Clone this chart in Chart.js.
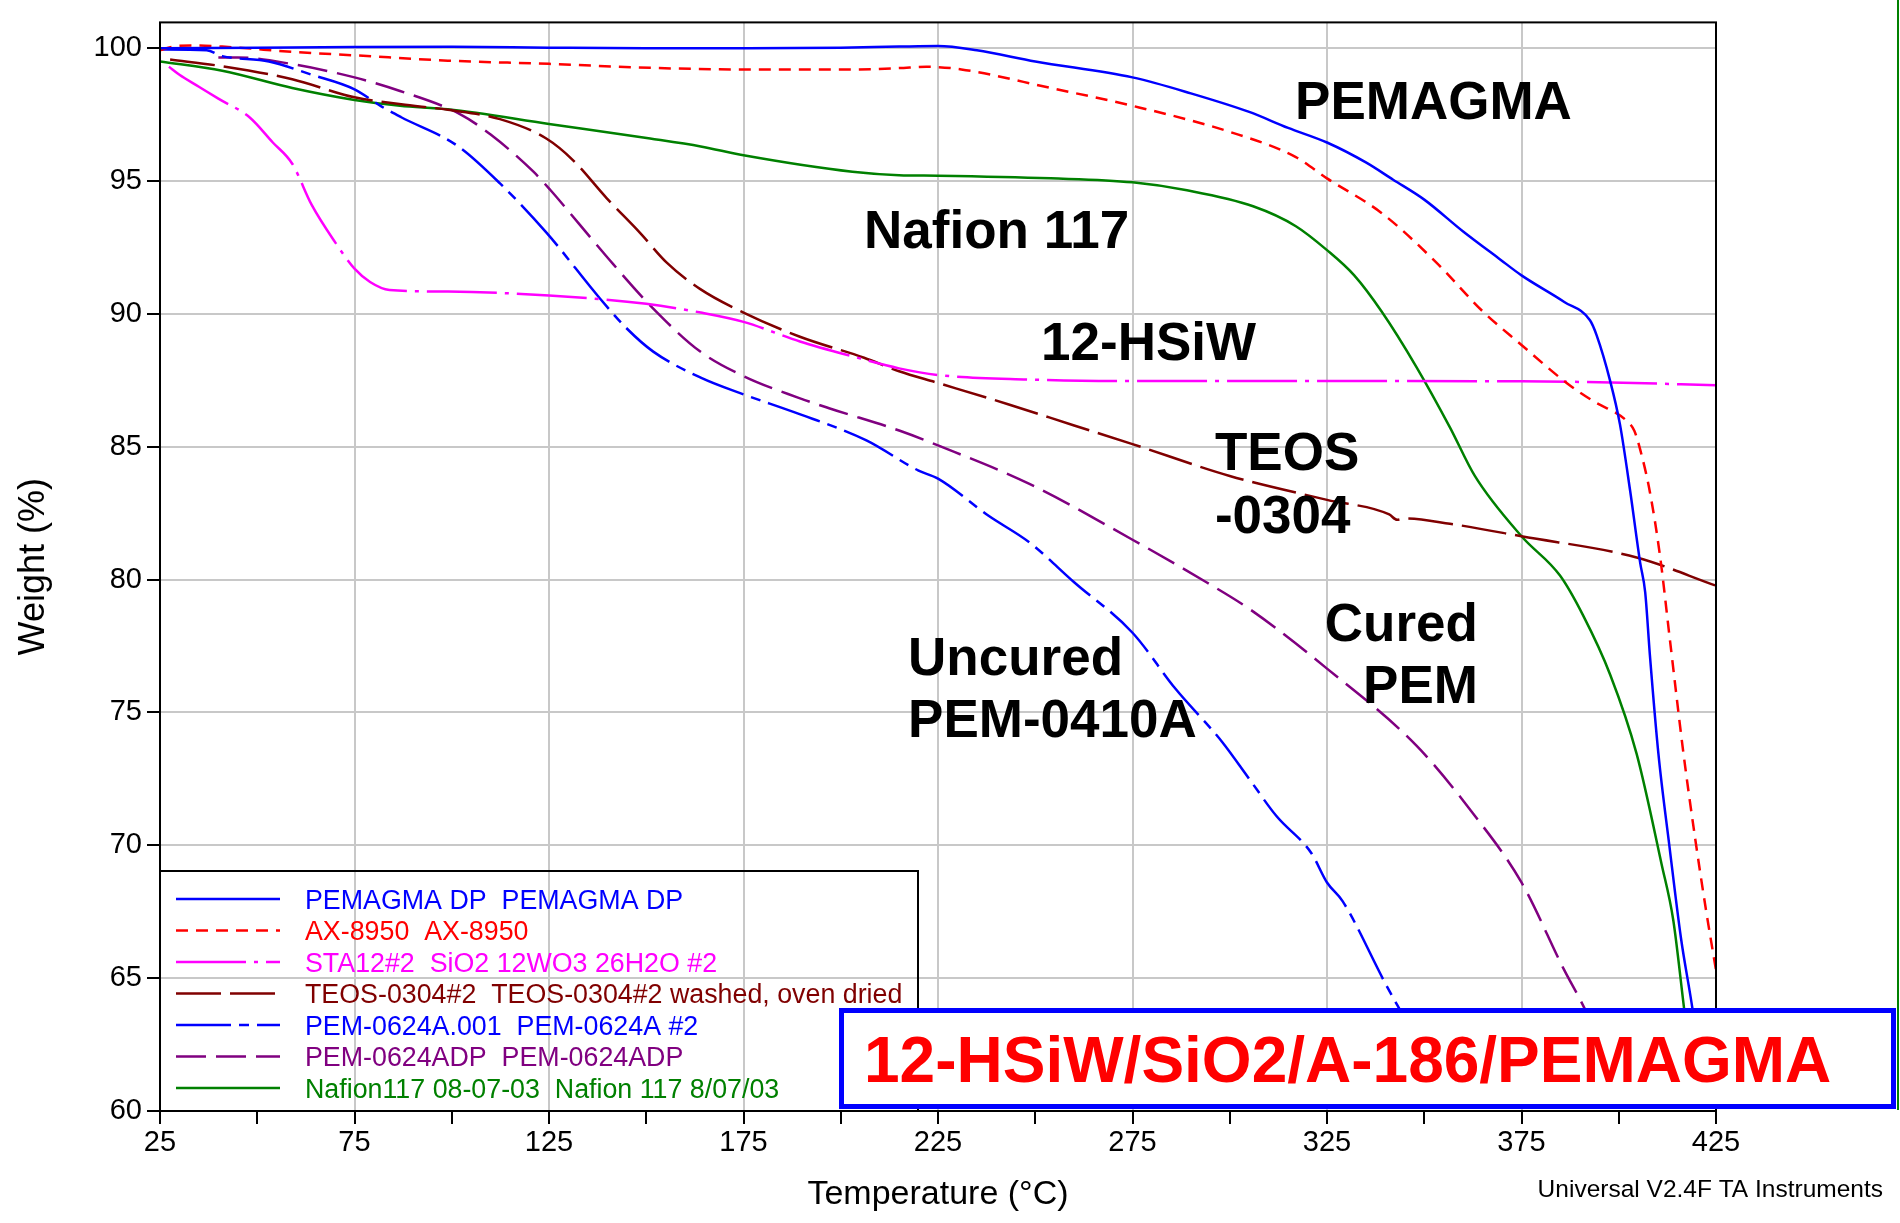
<!DOCTYPE html>
<html>
<head>
<meta charset="utf-8">
<script src="https://cdn.jsdelivr.net/npm/chart.js@4.4.1/dist/chart.umd.min.js"></script>
<style>
  html, body { margin: 0; padding: 0; background: #fff; }
  #tgaChart { display: block; }
</style>
</head>
<body>
<canvas id="tgaChart" width="1900" height="1223"></canvas>
<script>
// Ejes: marcas cada 25 °C, etiquetas cada 50 °C
const tempTicks = [25, 50, 75, 100, 125, 150, 175, 200, 225, 250, 275, 300, 325, 350, 375, 400, 425];
const tempLabels = [25, 75, 125, 175, 225, 275, 325, 375, 425];
const weightTicks = [60, 65, 70, 75, 80, 85, 90, 95, 100];

// PEMAGMA DP
const pemagmaTemp = [25, 50, 75, 100, 125, 150, 175, 200, 215, 225, 235, 250, 275, 290, 305, 315, 325, 335, 342, 350, 360, 369.5, 375, 386, 392.6, 394.3, 397.8, 400.3, 402.9, 405.5, 406.8, 408, 410.2, 413, 416, 419, 422];
const pemagmaWeight = [100.0, 100.02, 100.04, 100.05, 100.02, 100.0, 100.0, 100.02, 100.06, 100.08, 99.92, 99.5, 98.9, 98.3, 97.6, 97.0, 96.45, 95.7, 95.05, 94.3, 93.1, 92.05, 91.45, 90.45, 89.76, 89.2, 87.47, 85.85, 83.37, 80.64, 79.52, 77.17, 73.44, 70.0, 66.5, 63.8, 60.5];

// AX-8950
const axTemp = [25, 28, 33, 41, 60, 75, 99, 125, 151, 175, 203, 215, 222, 231, 254, 275, 300, 317, 325, 339, 353, 365, 375, 386.6, 393.4, 402, 404, 405.5, 408, 410.6, 413.1, 416.6, 419.7, 422.5, 425];
const axWeight = [99.92, 100.05, 100.1, 100.06, 99.85, 99.73, 99.53, 99.41, 99.26, 99.2, 99.2, 99.25, 99.3, 99.2, 98.5, 97.83, 96.85, 95.9, 95.1, 93.8, 91.95, 90.1, 88.83, 87.4, 86.72, 85.98, 85.6, 84.9, 83.3, 80.9, 77.8, 73.5, 70.2, 67.5, 65.3];

// STA12#2 (12-HSiW)
const staTemp = [27.3, 30, 35, 40, 48, 54, 59, 64, 70, 75, 79, 84, 99, 125, 150, 164, 175, 189.5, 203, 215, 225, 248, 275, 331, 375, 398, 425];
const staWeight = [99.3, 99.0, 98.55, 98.1, 97.4, 96.45, 95.65, 94.1, 92.7, 91.7, 91.2, 90.9, 90.84, 90.69, 90.38, 90.05, 89.7, 88.96, 88.4, 87.95, 87.7, 87.53, 87.47, 87.47, 87.46, 87.42, 87.31];

// TEOS-0304#2
const teosTemp = [27.6, 41, 59, 75, 87, 99, 112.4, 124.4, 131.2, 139.8, 148.4, 155.2, 163.8, 175, 189.5, 206, 215, 225, 243, 260, 275, 300, 325, 341, 343, 345, 356.6, 375, 404.6, 425];
const teosWeight = [99.57, 99.32, 98.83, 98.15, 97.89, 97.68, 97.33, 96.59, 95.78, 94.36, 93.05, 91.94, 90.94, 90.05, 89.14, 88.35, 87.84, 87.4, 86.6, 85.8, 85.1, 83.9, 83.0, 82.45, 82.25, 82.3, 82.1, 81.63, 80.83, 79.77];

// PEM-0624A.001
const pemATemp = [25, 37, 41, 53, 64, 75, 82, 87, 101.3, 112.4, 124.4, 138.1, 145, 151.8, 164, 175, 188, 206.6, 220, 225, 238, 248.5, 260, 275, 286, 298, 305, 312, 321, 325, 329, 340, 343, 357];
const pemAWeight = [99.95, 99.92, 99.7, 99.5, 99.0, 98.45, 97.8, 97.4, 96.34, 94.91, 93.05, 90.58, 89.45, 88.58, 87.6, 86.97, 86.3, 85.24, 84.1, 83.8, 82.4, 81.4, 79.9, 78.0, 75.9, 73.9, 72.5, 71.1, 69.7, 68.6, 67.9, 64.8, 64.0, 60.4];

// PEM-0624ADP
const pemAdpTemp = [40, 45, 59, 75, 86.7, 102.1, 110, 121, 125.3, 133, 141.5, 151.8, 163.8, 175, 189, 197, 215.2, 225, 248.5, 275, 294, 305.5, 325, 348, 362, 375, 386, 390.4, 402];
const pemAdpWeight = [99.65, 99.65, 99.4, 98.9, 98.39, 97.52, 96.75, 95.35, 94.67, 93.34, 91.87, 90.2, 88.59, 87.66, 86.85, 86.45, 85.6, 85.05, 83.6, 81.5, 79.9, 78.85, 76.65, 73.75, 71.3, 68.6, 65.3, 64.1, 60.6];

// Nafion 117
const nafionTemp = [25, 41, 59, 75, 86.7, 99, 125, 151, 164, 175, 203, 215, 225, 254, 275, 289, 306, 317, 325, 332, 339, 348, 356.6, 363, 375, 384.9, 390.8, 397.8, 404.6, 411, 414, 416.6, 419.5];
const nafionWeight = [99.5, 99.15, 98.5, 98.05, 97.83, 97.7, 97.15, 96.6, 96.3, 95.97, 95.35, 95.22, 95.2, 95.1, 94.95, 94.65, 94.05, 93.3, 92.4, 91.45, 90.1, 88.0, 85.73, 83.9, 81.63, 80.15, 78.66, 76.42, 73.44, 69.3, 67.2, 64.1, 60.5];

// Etiquetas dentro de la gráfica (línea base del texto, en unidades de datos)
const annotations = [
  { text: "PEMAGMA", temp: 316.8, weight: 97.35, align: "left" },
  { text: "Nafion 117", temp: 206.0, weight: 92.47, align: "left" },
  { text: "12-HSiW", temp: 251.5, weight: 88.26, align: "left" },
  { text: "TEOS", temp: 296.2, weight: 84.13, align: "left" },
  { text: "-0304", temp: 296.2, weight: 81.75, align: "left" },
  { text: "Uncured", temp: 217.3, weight: 76.42, align: "left" },
  { text: "PEM-0410A", temp: 217.3, weight: 74.08, align: "left" },
  { text: "Cured", temp: 363.8, weight: 77.69, align: "right" },
  { text: "PEM", temp: 363.8, weight: 75.34, align: "right" },
];

const FONT = '"Liberation Sans", Arial, Helvetica, sans-serif';

function toPoints(temps, weights) {
  return temps.map((t, i) => ({ x: t, y: weights[i] }));
}

function series(legendText, temps, weights, color, dash) {
  return {
    label: legendText,
    data: toPoints(temps, weights),
    borderColor: color,
    borderDash: dash,
    borderWidth: 2.5,
    pointRadius: 0,
    cubicInterpolationMode: "monotone",
    fill: false,
  };
}

const datasets = [
  series("PEMAGMA DP  PEMAGMA DP", pemagmaTemp, pemagmaWeight, "#0000ff", []),
  series("AX-8950  AX-8950", axTemp, axWeight, "#ff0000", [12, 8]),
  series("STA12#2  SiO2 12WO3 26H2O #2", staTemp, staWeight, "#ff00ff", [70, 8, 4, 8]),
  series("TEOS-0304#2  TEOS-0304#2 washed, oven dried", teosTemp, teosWeight, "#800000", [45, 9]),
  series("PEM-0624A.001  PEM-0624A #2", pemATemp, pemAWeight, "#0000ff", [55, 8, 10, 8]),
  series("PEM-0624ADP  PEM-0624ADP", pemAdpTemp, pemAdpWeight, "#800080", [30, 10]),
  series("Nafion117 08-07-03  Nafion 117 8/07/03", nafionTemp, nafionWeight, "#008000", []),
];

// Marco, leyenda, textos y recuadro del título
const decorPlugin = {
  id: "decor",
  afterDatasetsDraw(chart) {
    const { ctx, chartArea: a, scales } = chart;
    ctx.save();

    // marco de la gráfica
    ctx.strokeStyle = "#000";
    ctx.lineWidth = 2;
    ctx.setLineDash([]);
    ctx.strokeRect(a.left, a.top, a.right - a.left, a.bottom - a.top);

    // leyenda (sin relleno, la rejilla se ve a través)
    const lgTop = 871, lgRight = 918;
    ctx.strokeRect(a.left, lgTop, lgRight - a.left, a.bottom - lgTop);
    ctx.font = "26.8px " + FONT;
    ctx.textAlign = "left";
    ctx.textBaseline = "alphabetic";
    chart.data.datasets.forEach((ds, i) => {
      const cy = 899 + i * 31.5;
      ctx.strokeStyle = ds.borderColor;
      ctx.lineWidth = 2.5;
      ctx.setLineDash(ds.borderDash);
      ctx.beginPath();
      ctx.moveTo(176, cy);
      ctx.lineTo(280, cy);
      ctx.stroke();
      ctx.fillStyle = ds.borderColor;
      ctx.fillText(ds.label, 305, cy + 9.5);
    });
    ctx.setLineDash([]);

    // etiquetas en negritas
    ctx.fillStyle = "#000";
    ctx.font = "bold 53px " + FONT;
    annotations.forEach((n) => {
      ctx.textAlign = n.align;
      ctx.fillText(n.text, scales.x.getPixelForValue(n.temp), scales.y.getPixelForValue(n.weight));
    });

    // recuadro del título
    ctx.fillStyle = "#fff";
    ctx.fillRect(839, 1008, 1057, 101);
    ctx.strokeStyle = "#0000ff";
    ctx.lineWidth = 5;
    ctx.strokeRect(841.5, 1010.5, 1052, 96);
    ctx.fillStyle = "#ff0000";
    ctx.font = "bold 64px " + FONT;
    ctx.textAlign = "left";
    ctx.fillText("12-HSiW/SiO2/A-186/PEMAGMA", 864, 1082);

    // línea verde del borde derecho
    ctx.strokeStyle = "#008000";
    ctx.lineWidth = 2;
    ctx.beginPath();
    ctx.moveTo(1898, 0);
    ctx.lineTo(1898, 1110);
    ctx.stroke();

    // pie del instrumento
    ctx.fillStyle = "#000";
    ctx.font = "24.5px " + FONT;
    ctx.textAlign = "right";
    ctx.fillText("Universal V2.4F TA Instruments", 1883, 1197);

    ctx.restore();
  },
};

const canvas = document.getElementById("tgaChart");
const ctx = canvas.getContext("2d");

new Chart(ctx, {
  type: "line",
  data: { datasets },
  options: {
    responsive: false,
    animation: false,
    layout: { padding: { top: 11, right: 184, bottom: 0, left: 0 } },
    plugins: {
      legend: { display: false },
      tooltip: { enabled: false },
    },
    scales: {
      x: {
        type: "linear",
        min: 25,
        max: 425,
        afterBuildTicks: (scale) => {
          scale.ticks = tempTicks.map((v) => ({ value: v }));
        },
        afterFit: (scale) => {
          scale.height = 112;
        },
        border: { display: false },
        grid: {
          color: (c) => (c.tick && tempLabels.includes(c.tick.value) ? "#c8c8c8" : "rgba(0,0,0,0)"),
          lineWidth: 2,
          tickColor: "#000",
          tickWidth: 2,
          tickLength: 13,
        },
        ticks: {
          autoSkip: false,
          maxRotation: 0,
          padding: 2,
          color: "#000",
          font: { family: FONT, size: 29 },
          callback: (v) => (tempLabels.includes(v) ? String(v) : ""),
        },
        title: {
          display: true,
          text: "Temperature (°C)",
          color: "#000",
          font: { family: FONT, size: 34 },
          padding: { top: 0, bottom: 8 },
        },
      },
      y: {
        type: "linear",
        min: 60,
        max: 100.97,
        afterBuildTicks: (scale) => {
          scale.ticks = weightTicks.map((v) => ({ value: v }));
        },
        afterFit: (scale) => {
          scale.width = 160;
        },
        border: { display: false },
        grid: {
          color: "#c8c8c8",
          lineWidth: 2,
          tickColor: "#000",
          tickWidth: 2,
          tickLength: 13,
        },
        ticks: {
          autoSkip: false,
          padding: 5,
          color: "#000",
          font: { family: FONT, size: 29 },
        },
        title: {
          display: true,
          text: "Weight (%)",
          color: "#000",
          font: { family: FONT, size: 36 },
          padding: { top: 12, bottom: 0 },
        },
      },
    },
  },
  plugins: [decorPlugin],
});
</script>
</body>
</html>
